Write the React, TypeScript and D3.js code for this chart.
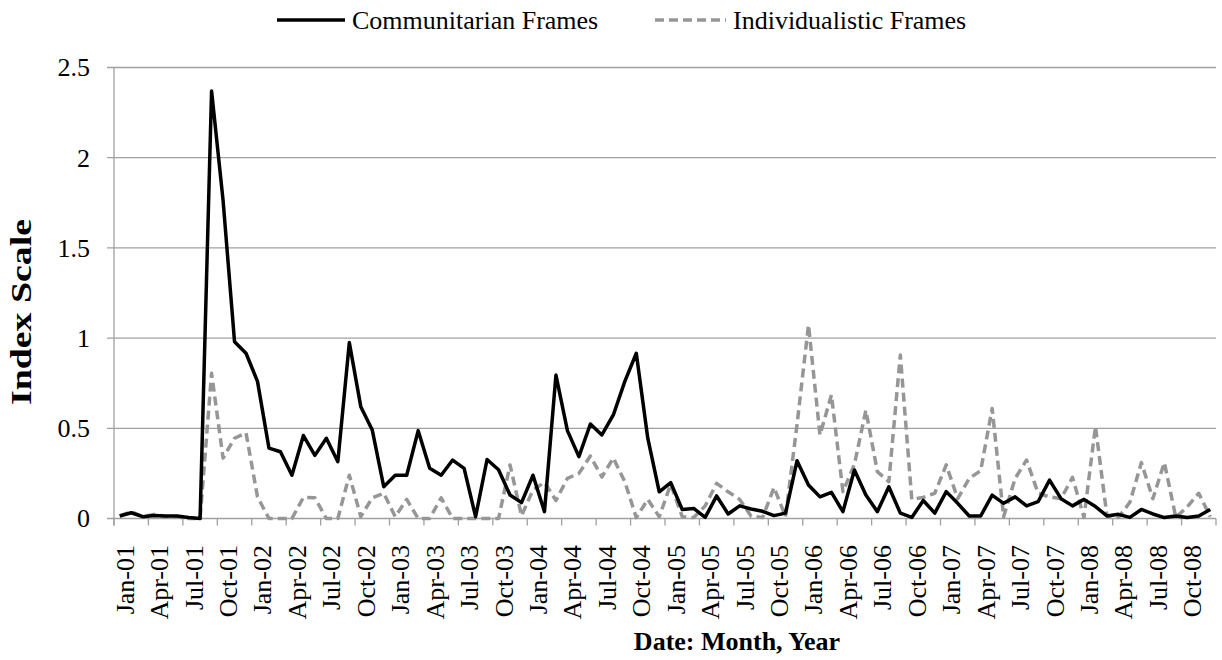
import React from "react";
import * as d3 from "d3";

const monthNames = ["Jan", "Feb", "Mar", "Apr", "May", "Jun", "Jul", "Aug", "Sep", "Oct", "Nov", "Dec"];
const yearCodes = ["01", "02", "03", "04", "05", "06", "07", "08"];
const categories = yearCodes.flatMap((y) => monthNames.map((m) => `${m}-${y}`));

const tickLabels = [
  "Jan-01", "Apr-01", "Jul-01", "Oct-01", "Jan-02", "Apr-02", "Jul-02", "Oct-02",
  "Jan-03", "Apr-03", "Jul-03", "Oct-03", "Jan-04", "Apr-04", "Jul-04", "Oct-04",
  "Jan-05", "Apr-05", "Jul-05", "Oct-05", "Jan-06", "Apr-06", "Jul-06", "Oct-06",
  "Jan-07", "Apr-07", "Jul-07", "Oct-07", "Jan-08", "Apr-08", "Jul-08", "Oct-08",
];

const yTicks = [0, 0.5, 1, 1.5, 2, 2.5];
const yTickLabels = ["0", "0.5", "1", "1.5", "2", "2.5"];

const communitarian = [
  0.014, 0.032, 0.01, 0.017, 0.014, 0.014, 0.006, 0, 2.37, 1.765, 0.98, 0.916,
  0.76, 0.39, 0.37, 0.24, 0.46, 0.35, 0.445, 0.315, 0.975, 0.62, 0.49, 0.176,
  0.24, 0.24, 0.487, 0.278, 0.24, 0.324, 0.278, 0.01, 0.327, 0.27, 0.13, 0.088,
  0.24, 0.038, 0.795, 0.487, 0.343, 0.524, 0.463, 0.574, 0.76, 0.916, 0.445, 0.148,
  0.199, 0.05, 0.056, 0.006, 0.125, 0.025, 0.07, 0.053, 0.04, 0.016, 0.03, 0.32,
  0.186, 0.12, 0.145, 0.038, 0.269, 0.13, 0.038, 0.176, 0.03, 0.006, 0.1, 0.03,
  0.149, 0.084, 0.014, 0.014, 0.13, 0.084, 0.12, 0.07, 0.093, 0.213, 0.11, 0.07,
  0.106, 0.066, 0.014, 0.023, 0.006, 0.05, 0.025, 0.005, 0.014, 0.005, 0.014, 0.05,
];

const individualistic = [
  0.014, 0.038, 0.01, 0.023, 0.01, 0.01, 0, 0, 0.805, 0.335, 0.445, 0.475,
  0.12, 0, 0, 0, 0.117, 0.115, 0, 0, 0.24, 0.01, 0.115, 0.14,
  0.01, 0.106, 0, 0, 0.115, 0, 0, 0, 0, 0, 0.297, 0.015,
  0.158, 0.2, 0.1, 0.223, 0.25, 0.346, 0.23, 0.335, 0.204, 0.005, 0.106, 0.01,
  0.19, 0.01, 0.005, 0.07, 0.195, 0.148, 0.106, 0.013, 0.005, 0.172, 0.01, 0.52,
  1.073, 0.463, 0.685, 0.149, 0.3, 0.6, 0.26, 0.204, 0.906, 0.106, 0.117, 0.14,
  0.297, 0.11, 0.222, 0.265, 0.61, 0.01, 0.222, 0.324, 0.14, 0.12, 0.11, 0.228,
  0.006, 0.51, 0.014, 0.006, 0.09, 0.31, 0.11, 0.31, 0.006, 0.065, 0.14, 0.01,
];

const W = 1222;
const H = 660;
const left = 114;
const right = 1216;
const top = 67.5;
const bottom = 518.5;
const FONT = "'Liberation Serif', 'Times New Roman', serif";
const GRID = "#a0a0a0";
const GRAY = "#969696";

export default function App() {
  const x = d3.scaleBand<string>().domain(categories).range([left, right]).padding(0);
  const bw = x.bandwidth();
  const cx = (i: number) => (x(categories[i]) as number) + bw / 2;
  const y = d3.scaleLinear().domain([0, 2.5]).range([bottom, top]);

  const line = d3
    .line<number>()
    .x((_, i) => cx(i))
    .y((d) => y(d));

  const boundaries = d3.range(0, categories.length + 1, 3);

  return (
    <svg
      width={W}
      height={H}
      style={{ position: "fixed", left: 0, top: 0, background: "#fff" }}
      fontFamily={FONT}
    >
      <rect x={0} y={0} width={W} height={H} fill="#fff" />
      {/* gridlines */}
      {yTicks.map((t) => (
        <line key={"g" + t} x1={left - 7} x2={right} y1={y(t)} y2={y(t)} stroke={GRID} strokeWidth={1.3} />
      ))}
      {/* y axis line */}
      <line x1={left} x2={left} y1={top} y2={bottom + 7} stroke={GRID} strokeWidth={1.3} />
      {/* x ticks */}
      {boundaries.map((b) => {
        const xx = left + b * bw;
        return <line key={"xt" + b} x1={xx} x2={xx} y1={bottom} y2={bottom + 7} stroke={GRID} strokeWidth={1.3} />;
      })}
      {/* y tick labels */}
      {yTicks.map((t, i) => (
        <text key={"yl" + t} x={90} y={y(t)} dy="0.34em" textAnchor="end" fontSize={26} fill="#000">
          {yTickLabels[i]}
        </text>
      ))}
      {/* x tick labels */}
      {tickLabels.map((lab) => {
        const i = categories.indexOf(lab);
        const xx = cx(i) + 14;
        return (
          <text
            key={lab}
            transform={`translate(${xx},545) rotate(-90)`}
            textAnchor="end"
            fontSize={26}
            fill="#000"
          >
            {lab}
          </text>
        );
      })}
      {/* series */}
      <path
        d={line(individualistic) || ""}
        fill="none"
        stroke={GRAY}
        strokeWidth={3.5}
        strokeDasharray="9,5"
        strokeLinejoin="round"
      />
      <path d={line(communitarian) || ""} fill="none" stroke="#000" strokeWidth={3.5} strokeLinejoin="round" />
      {/* axis titles */}
      <text x={737} y={650} textAnchor="middle" fontSize={26} fontWeight="bold" fill="#000">
        Date: Month, Year
      </text>
      <text
        transform={`translate(31,312) rotate(-90)`}
        textAnchor="middle"
        fontSize={29}
        fontWeight="bold"
        fill="#000"
        textLength={186}
        lengthAdjust="spacingAndGlyphs"
      >
        Index Scale
      </text>
      {/* legend */}
      <line x1={277} x2={345} y1={20} y2={20} stroke="#000" strokeWidth={3.5} />
      <text x={352} y={29} fontSize={26} fill="#000">
        Communitarian Frames
      </text>
      <line x1={655} x2={726} y1={20} y2={20} stroke={GRAY} strokeWidth={3.5} strokeDasharray="9,5" />
      <text x={733} y={29} fontSize={26} fill="#000">
        Individualistic Frames
      </text>
    </svg>
  );
}
